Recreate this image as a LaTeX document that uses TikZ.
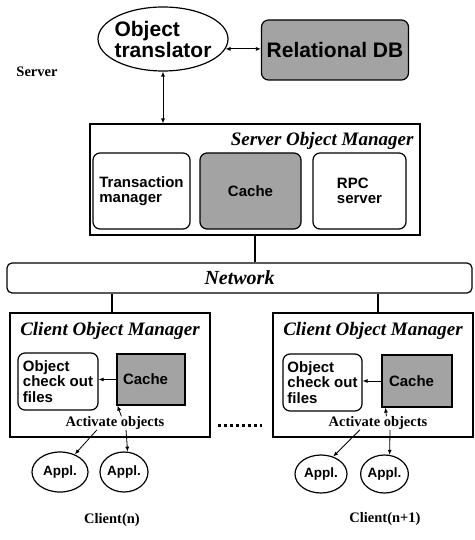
\documentclass[tikz,border=0pt]{standalone}
\usepackage{fontspec}
\setmainfont{Liberation Serif}
\newfontfamily\helv{Liberation Sans}
\usetikzlibrary{shapes.geometric,arrows.meta}
\begin{document}
\begin{tikzpicture}[x=1pt,y=-1pt,
  every node/.style={inner sep=0pt},
  frame/.style={draw,line width=1.2pt},
  unit/.style={draw,line width=1.2pt,rounded corners=7pt,align=left,font=\helv\bfseries\fontsize{15}{15.5}\selectfont},
  shaded/.style={fill=gray!72},
  oval/.style={draw,line width=1.2pt,ellipse,align=left,font=\helv\bfseries\fontsize{13.5}{14}\selectfont},
  heading/.style={font=\bfseries\itshape\fontsize{19}{19}\selectfont},
  caption/.style={font=\bfseries\fontsize{14.5}{14.5}\selectfont},
  arr/.style={-{Latex[length=5pt,width=4pt]},line width=0.8pt},
  arrboth/.style={{Latex[length=5pt,width=4pt]}-{Latex[length=5pt,width=4pt]},line width=0.8pt},
  link/.style={line width=1.2pt}]
\useasboundingbox (0,0) rectangle (474,540);

% server side
\node[oval,inner xsep=-4pt,minimum width=130pt,minimum height=64pt,font=\helv\bfseries\fontsize{21}{21}\selectfont] (ot) at (163,39) {Object\\translator};
\node[unit,shaded,minimum width=147pt,minimum height=60pt,font=\helv\bfseries\fontsize{21}{21}\selectfont] (rdb) at (335,50) {Relational DB};
\node[caption] (srv) at (37,72) {Server};
\draw[arrboth] (ot.-9) -- (ot.-9 -| rdb.west);

\node[frame,minimum width=330pt,minimum height=111pt] (som) at (255,179.5) {};
\node[heading,anchor=north east] (somt) at ([xshift=-7pt,yshift=-9pt]som.north east) {Server Object Manager};
\node[unit,minimum width=97pt,minimum height=76pt] (tm) at (141.5,191) {Transaction\\manager};
\node[unit,shaded,minimum width=101pt,minimum height=76pt] (sc) at (250.5,191) {Cache};
\node[unit,minimum width=93pt,minimum height=76pt] (rpc) at (359.5,191) {RPC\\server};
\draw[arrboth] (ot.south) -- (ot.south |- som.north);

% network
\node[frame,rounded corners=5pt,minimum width=465pt,minimum height=30pt,font=\bfseries\itshape\fontsize{20}{20}\selectfont] (net) at (239.5,278) {Network};
\draw[link] (som.south) -- (som.south |- net.north);

% clients
\node[frame,minimum width=200pt,minimum height=124pt] (cl1) at (110,375) {};
\node[frame,minimum width=200pt,minimum height=124pt] (cl2) at (373,375) {};
\draw[link] ([xshift=2pt]cl1.north) -- ([xshift=2pt]cl1.north |- net.south);
\draw[link] ([xshift=5pt]cl2.north) -- ([xshift=5pt]cl2.north |- net.south);
\node[heading,anchor=north] (cl1t) at ([yshift=-10pt]cl1.north) {Client Object Manager};
\node[heading,anchor=north] (cl2t) at ([yshift=-10pt]cl2.north) {Client Object Manager};

\node[unit,minimum width=80pt,minimum height=57pt] (co1) at (58,381.5) {Object\\check out\\files};
\node[frame,shaded,minimum width=68pt,minimum height=51pt,text width=56pt,align=left,font=\helv\bfseries\fontsize{15}{15.5}\selectfont] (cc1) at (151,379.5) {Cache};
\node[unit,minimum width=79pt,minimum height=57pt] (co2) at (322.5,382.5) {Object\\check out\\files};
\node[frame,shaded,minimum width=70pt,minimum height=52pt,text width=56pt,align=left,font=\helv\bfseries\fontsize{15}{15.5}\selectfont] (cc2) at (417,381) {Cache};
\draw[arr] (cc1.west) -- (cc1.west -| co1.east);
\draw[arr] (cc2.west) -- (cc2.west -| co2.east);

\node[caption] (act1) at (115,423) {Activate objects};
\node[caption] (act2) at (378,423) {Activate objects};

\node[oval,minimum width=56pt,minimum height=40pt] (ap1) at (60,472) {Appl.};
\node[oval,minimum width=48pt,minimum height=40pt] (ap2) at (124,472) {Appl.};
\node[oval,minimum width=52pt,minimum height=38pt] (ap3) at (321,474) {Appl.};
\node[oval,minimum width=46pt,minimum height=38pt] (ap4) at (384.5,474) {Appl.};

\draw[arr] ([xshift=5pt]act1.north -| cc1.south west) -- ([xshift=1pt]cc1.south west);
\draw[arr] ([xshift=-18pt]act1.south) -- (ap1.50);
\draw[arr] ([xshift=11pt]act1.south) -- (ap2.80);
\draw[arr] ([xshift=5pt]act2.north -| cc2.south west) -- ([xshift=4pt]cc2.south west);
\draw[arr] ([xshift=-18pt]act2.south) -- (ap3.55);
\draw[arr] ([xshift=12pt]act2.south) -- (ap4.75);

\draw[line width=3pt,dash pattern=on 3pt off 3pt] (218,425) -- (262,425);

\node[caption] (c1) at (112,520) {Client(n)};
\node[caption] (c2) at (385,519) {Client(n+1)};
\end{tikzpicture}
\end{document}
